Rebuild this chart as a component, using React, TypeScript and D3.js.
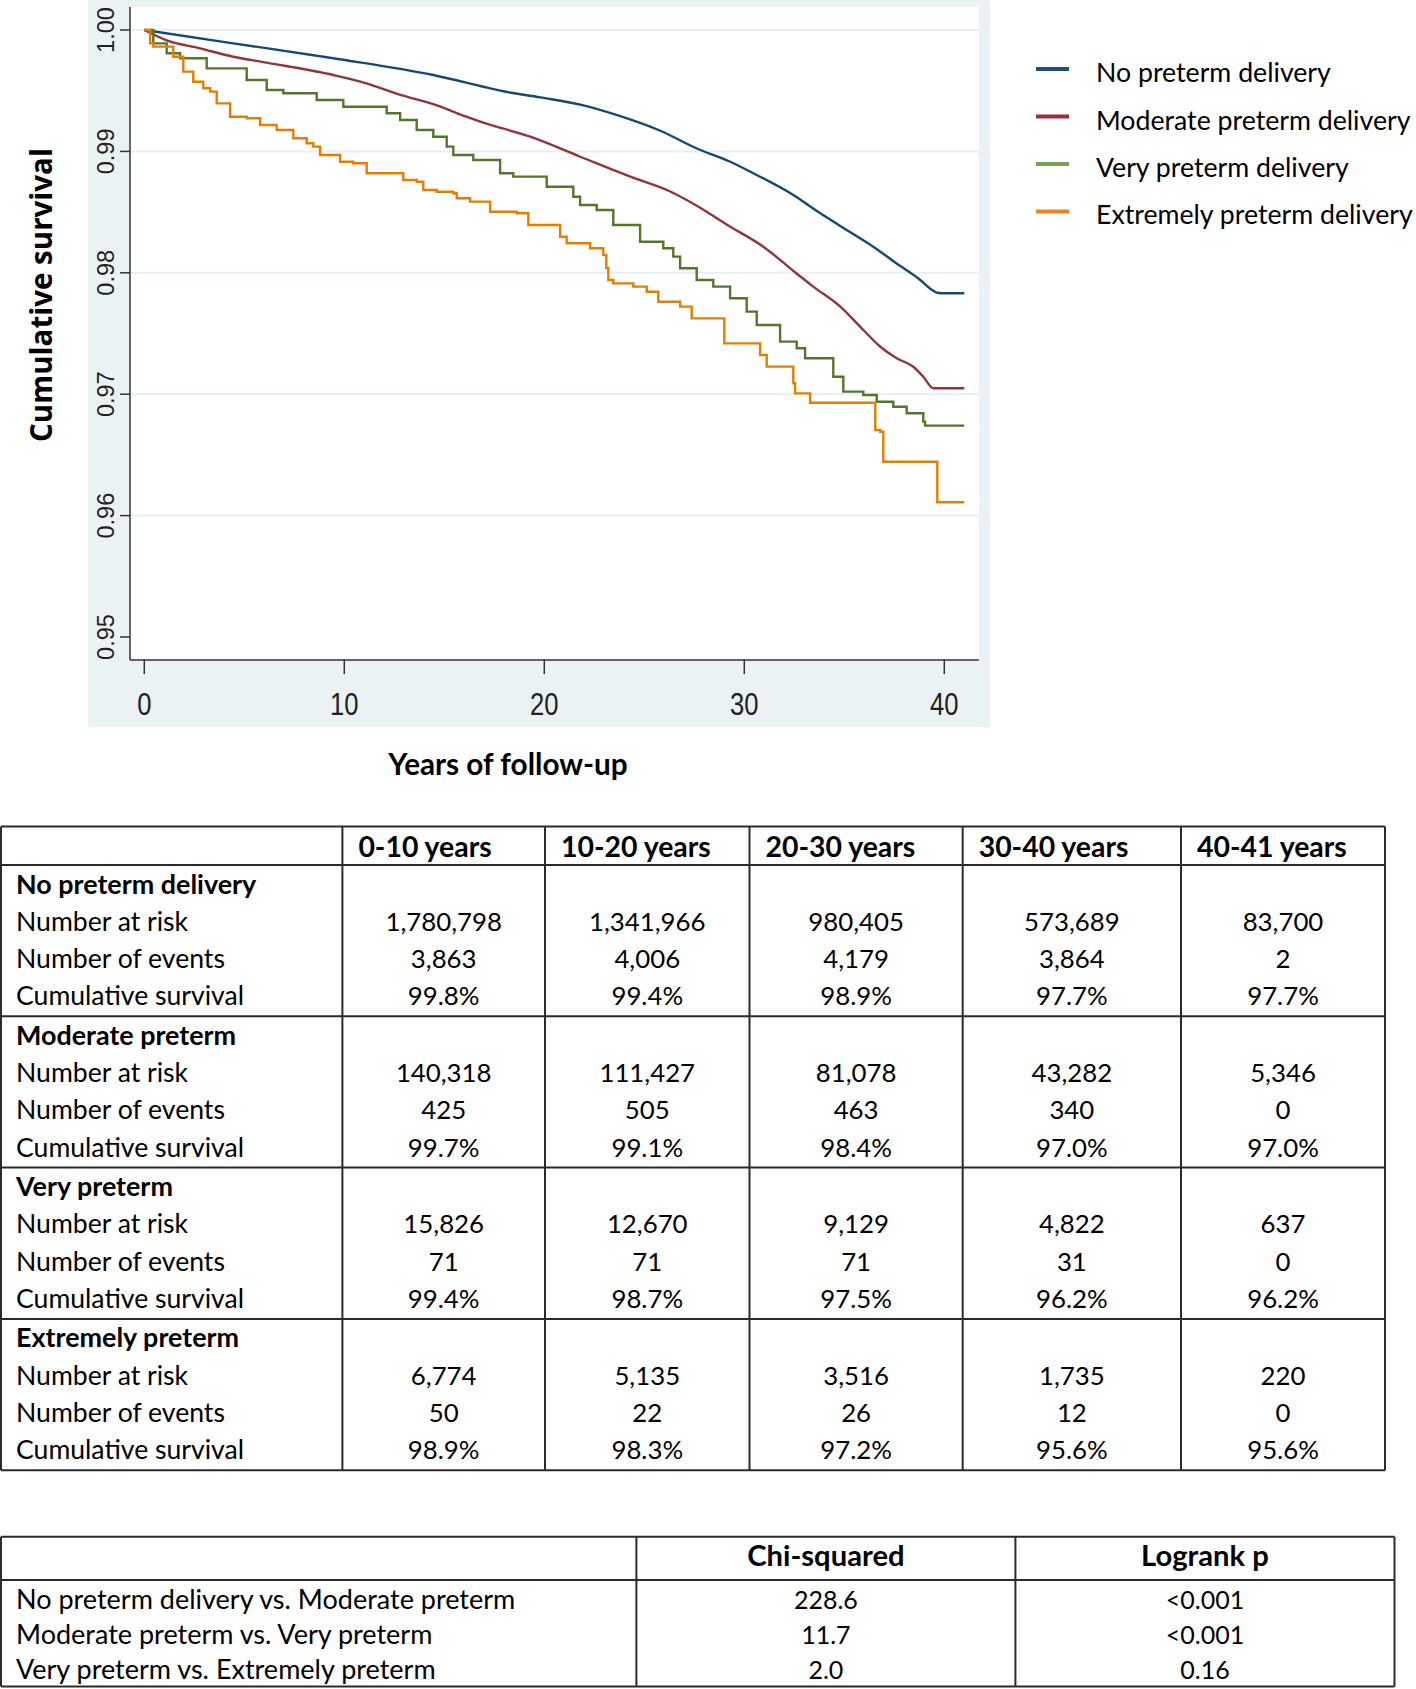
import React from "react";
import * as d3 from "d3";

// ---------- DATA ----------
const seriesNames = [
  "No preterm delivery",
  "Moderate preterm delivery",
  "Very preterm delivery",
  "Extremely preterm delivery",
];

// [years, cumulative survival]
const noPreterm: [number, number][] = [
  [0, 1.0], [4.45, 0.9989], [9.45, 0.99767], [14.45, 0.99629], [16.8, 0.99539],
  [17.8, 0.995], [19.8, 0.99445], [21.8, 0.99385], [23.8, 0.9929], [25.8, 0.9917],
  [27.6, 0.99026], [29.3, 0.98915], [30.45, 0.9882], [32.45, 0.98641], [33.8, 0.9849],
  [35.12, 0.98353], [36.45, 0.98215], [37.6, 0.98078], [38.8, 0.97941], [39.3, 0.97868],
  [39.65, 0.97836], [40.0, 0.97831], [41.0, 0.97831],
];

const moderatePreterm: [number, number][] = [
  [0, 1.0], [1.12, 0.99915], [2.78, 0.99849], [4.45, 0.9978], [6.12, 0.99731],
  [9.45, 0.99629], [11.1, 0.99561], [12.8, 0.99465], [14.45, 0.9939], [16.1, 0.99286],
  [16.8, 0.99245], [19.3, 0.99121], [21.8, 0.98956], [24.3, 0.98792], [26.3, 0.9867],
  [27.6, 0.98555], [29.3, 0.9838], [30.95, 0.98215], [32.6, 0.97996], [33.45, 0.97886],
  [34.8, 0.97721], [35.95, 0.97529], [36.8, 0.97391], [37.62, 0.97296], [38.45, 0.97226],
  [38.95, 0.97144], [39.45, 0.97049], [41.0, 0.97049],
];

const veryPreterm: [number, number][] = [
  [0, 1.0], [0.45, 0.9989], [1.12, 0.99808], [1.79, 0.99767], [3.12, 0.99684],
  [5.12, 0.99588], [6.12, 0.99506], [6.95, 0.99479], [8.62, 0.99423], [9.95, 0.99368],
  [12.12, 0.99314], [12.79, 0.99259], [13.62, 0.99176], [14.45, 0.99121], [15.12, 0.99039],
  [15.45, 0.9897], [16.45, 0.98929], [17.79, 0.9882], [18.45, 0.98792], [20.12, 0.98709],
  [21.45, 0.98627], [21.79, 0.98559], [22.62, 0.98517], [23.45, 0.98394], [24.79, 0.98256],
  [25.95, 0.98202], [26.45, 0.98133], [26.79, 0.98037], [27.62, 0.97941], [28.45, 0.97886],
  [29.29, 0.9779], [30.12, 0.9768], [30.62, 0.9757], [31.79, 0.97433], [32.62, 0.97378],
  [33.04, 0.97296], [34.45, 0.97144], [34.95, 0.97021], [35.95, 0.96993], [36.62, 0.96938],
  [37.45, 0.96897], [38.12, 0.96843], [38.95, 0.96774], [39.04, 0.96741], [41.0, 0.96741],
];

const extremelyPreterm: [number, number][] = [
  [0, 1.0], [0.29, 0.9989], [0.45, 0.99863], [1.45, 0.9978], [1.95, 0.99657],
  [2.45, 0.99574], [2.95, 0.9952], [3.29, 0.99492], [3.62, 0.99396], [4.29, 0.99286],
  [5.12, 0.99273], [5.79, 0.99217], [6.62, 0.99176], [7.45, 0.99108], [8.12, 0.99067],
  [8.45, 0.99039], [8.79, 0.9897], [9.79, 0.98915], [10.45, 0.98902], [11.12, 0.9882],
  [12.95, 0.98764], [13.62, 0.9875], [13.95, 0.98682], [14.62, 0.98668], [15.45, 0.98655],
  [15.62, 0.98614], [16.29, 0.98586], [17.29, 0.98503], [18.62, 0.9849], [19.2, 0.98394],
  [20.79, 0.98297], [21.12, 0.98243], [22.29, 0.98202], [22.95, 0.98147], [23.1, 0.9804],
  [23.2, 0.97941], [23.45, 0.97913], [24.45, 0.97886], [25.12, 0.97844], [25.7, 0.97762],
  [26.79, 0.97721], [27.37, 0.97625], [29.0, 0.97419], [30.79, 0.97323], [31.12, 0.97227],
  [32.45, 0.9709], [32.54, 0.97007], [33.29, 0.9693], [36.55, 0.96705], [36.8, 0.96691],
  [36.95, 0.96444], [39.65, 0.9611], [41.0, 0.9611],
];

const xTicks = [0, 10, 20, 30, 40];
const yTicks = [0.95, 0.96, 0.97, 0.98, 0.99, 1.0];
const yGrid = [0.96, 0.97, 0.98, 0.99, 1.0];

const curveColors = ["#1a476f", "#90353b", "#55752f", "#e37e00"];
const legendColors = ["#1f4e79", "#9c2e3a", "#77a24f", "#f0841a"];

const periodLabels = ["0-10 years", "10-20 years", "20-30 years", "30-40 years", "40-41 years"];
const groupNames = ["No preterm delivery", "Moderate preterm", "Very preterm", "Extremely preterm"];
const rowLabels = ["Number at risk", "Number of events", "Cumulative survival"];

const atRisk = [
  ["1,780,798", "1,341,966", "980,405", "573,689", "83,700"],
  ["140,318", "111,427", "81,078", "43,282", "5,346"],
  ["15,826", "12,670", "9,129", "4,822", "637"],
  ["6,774", "5,135", "3,516", "1,735", "220"],
];
const events = [
  ["3,863", "4,006", "4,179", "3,864", "2"],
  ["425", "505", "463", "340", "0"],
  ["71", "71", "71", "31", "0"],
  ["50", "22", "26", "12", "0"],
];
const cumSurvival = [
  ["99.8%", "99.4%", "98.9%", "97.7%", "97.7%"],
  ["99.7%", "99.1%", "98.4%", "97.0%", "97.0%"],
  ["99.4%", "98.7%", "97.5%", "96.2%", "96.2%"],
  ["98.9%", "98.3%", "97.2%", "95.6%", "95.6%"],
];

const comparisonHeaders = ["Chi-squared", "Logrank p"];
const comparisons = [
  "No preterm delivery vs. Moderate preterm",
  "Moderate preterm vs. Very preterm",
  "Very preterm vs. Extremely preterm",
];
const chiSquared = ["228.6", "11.7", "2.0"];
const logrankP = ["<0.001", "<0.001", "0.16"];

// ---------- COMPONENT ----------
const W = 1416;
const H = 1689;
const TABLE_FONT = "Lato, Carlito, 'Noto Sans', sans-serif";

export default function App() {
  const x = d3.scaleLinear().domain([0, 40]).range([144.3, 944.3]);
  const y = d3.scaleLinear().domain([0.95, 1.0]).range([637, 30]);

  const smooth = d3
    .line<[number, number]>()
    .x((d) => x(d[0]))
    .y((d) => y(d[1]))
    .curve(d3.curveMonotoneX);
  const step = d3
    .line<[number, number]>()
    .x((d) => x(d[0]))
    .y((d) => y(d[1]))
    .curve(d3.curveStepAfter);

  const paths = [
    smooth(noPreterm),
    smooth(moderatePreterm),
    step(veryPreterm),
    step(extremelyPreterm),
  ];

  // plot geometry
  const panel = { x0: 88, y0: 0, x1: 990, y1: 727 };
  const plot = { x0: 130, y0: 7, x1: 979, y1: 660 };

  // table 1 geometry
  const t1Cols = [1, 342.4, 545, 749.5, 962.7, 1181, 1385];
  const t1Top = 826.5;
  const t1HeadBottom = 865;
  const groupH = 151.3;
  const t1Bottom = t1HeadBottom + groupH * 4;
  const rowOffsets = [28.5, 65.8, 103.1, 140.4];
  const colCenter = (i: number) => (t1Cols[i + 1] + t1Cols[i + 2]) / 2;

  // table 2 geometry
  const t2Cols = [1, 636.4, 1015.4, 1394.5];
  const t2Top = 1536.7;
  const t2HeadBottom = 1580;
  const t2Bottom = 1686.5;
  const t2RowBase = [1609, 1644, 1679];

  const lineColor = "#2b2b2b";

  return (
    <svg
      width={W}
      height={H}
      viewBox={`0 0 ${W} ${H}`}
      style={{ position: "absolute", left: 0, top: 0, background: "#ffffff" }}
    >
      <rect x={0} y={0} width={W} height={H} fill="#ffffff" />
      {/* graph region */}
      <rect x={panel.x0} y={panel.y0} width={panel.x1 - panel.x0} height={panel.y1 - panel.y0} fill="#eaf2f3" />
      <rect x={plot.x0} y={plot.y0} width={plot.x1 - plot.x0} height={plot.y1 - plot.y0} fill="#ffffff" />

      {/* gridlines */}
      {yGrid.map((v) => (
        <line key={v} x1={plot.x0} x2={plot.x1} y1={y(v)} y2={y(v)} stroke="#e6eff2" strokeWidth={2} />
      ))}

      {/* curves */}
      {paths.map((p, i) => (
        <path key={i} d={p || ""} fill="none" stroke={curveColors[i]} strokeWidth={2.4} strokeLinejoin="miter" />
      ))}

      {/* axes */}
      <line x1={plot.x0} x2={plot.x0} y1={plot.y0} y2={plot.y1} stroke="#333" strokeWidth={1.5} />
      <line x1={plot.x0} x2={plot.x1} y1={plot.y1} y2={plot.y1} stroke="#333" strokeWidth={1.5} />
      {yTicks.map((v) => (
        <g key={v}>
          <line x1={plot.x0 - 10} x2={plot.x0} y1={y(v)} y2={y(v)} stroke="#333" strokeWidth={1.5} />
          <text
            transform={`translate(114,${y(v)}) rotate(-90)`}
            textAnchor="middle"
            fontFamily="'Liberation Sans', Arial, sans-serif"
            fontSize={23.5}
            fill="#222"
          >
            {v.toFixed(2)}
          </text>
        </g>
      ))}
      {xTicks.map((t) => (
        <g key={t}>
          <line x1={x(t)} x2={x(t)} y1={plot.y1} y2={plot.y1 + 14} stroke="#333" strokeWidth={1.5} />
          <text
            transform={`translate(${x(t)},715) scale(0.8,1)`}
            textAnchor="middle"
            fontFamily="'Liberation Sans', Arial, sans-serif"
            fontSize={32}
            fill="#222"
          >
            {t}
          </text>
        </g>
      ))}

      {/* axis titles */}
      <text
        transform="translate(52,295) rotate(-90)"
        textAnchor="middle"
        fontFamily="'Open Sans', sans-serif"
        fontWeight={700}
        fontSize={29.5}
        fill="#000"
      >
        Cumulative survival
      </text>
      <text x={508} y={775} textAnchor="middle" fontFamily={TABLE_FONT} fontWeight={700} fontSize={29.7} fill="#000">
        Years of follow-up
      </text>

      {/* legend */}
      {seriesNames.map((n, i) => (
        <g key={n}>
          <line x1={1036} x2={1069} y1={69 + i * 47.5} y2={69 + i * 47.5} stroke={legendColors[i]} strokeWidth={4} />
          <text x={1096} y={82.3 + i * 47.2} fontFamily={TABLE_FONT} fontSize={26.7} fill="#000">
            {n}
          </text>
        </g>
      ))}

      {/* table 1 */}
      <g fontFamily={TABLE_FONT} fontSize={26.6} fill="#000">
        {periodLabels.map((p, i) => (
          <text key={p} x={t1Cols[i + 1] + 16} y={857} fontWeight={700} fontSize={28.4}>
            {p}
          </text>
        ))}
        {groupNames.map((g, gi) => {
          const top = t1HeadBottom + gi * groupH;
          const rows = [atRisk[gi], events[gi], cumSurvival[gi]];
          return (
            <g key={g}>
              <text x={16} y={top + rowOffsets[0]} fontWeight={700} fontSize={26.9}>
                {g}
              </text>
              {rowLabels.map((r, ri) => (
                <g key={r}>
                  <text x={16} y={top + rowOffsets[ri + 1]}>
                    {r}
                  </text>
                  {rows[ri].map((val, ci) => (
                    <text
                      key={ci}
                      x={colCenter(ci)}
                      y={top + rowOffsets[ri + 1]}
                      textAnchor="middle"
                      fontSize={25.8}
                    >
                      {val}
                    </text>
                  ))}
                </g>
              ))}
            </g>
          );
        })}
      </g>
      <g stroke={lineColor} strokeWidth={2}>
        <line x1={t1Cols[0]} x2={t1Cols[6]} y1={t1Top} y2={t1Top} />
        {[0, 1, 2, 3, 4].map((k) => (
          <line key={k} x1={t1Cols[0]} x2={t1Cols[6]} y1={t1HeadBottom + k * groupH} y2={t1HeadBottom + k * groupH} />
        ))}
        {t1Cols.map((cx, i) => (
          <line key={i} x1={cx} x2={cx} y1={t1Top} y2={t1Bottom} />
        ))}
      </g>

      {/* table 2 */}
      <g fontFamily={TABLE_FONT} fontSize={27} fill="#000">
        {comparisonHeaders.map((h, i) => (
          <text
            key={h}
            x={(t2Cols[i + 1] + t2Cols[i + 2]) / 2}
            y={1566}
            textAnchor="middle"
            fontWeight={700}
            fontSize={29.2}
          >
            {h}
          </text>
        ))}
        {comparisons.map((c, ri) => (
          <g key={c}>
            <text x={16} y={t2RowBase[ri]}>
              {c}
            </text>
            <text x={(t2Cols[1] + t2Cols[2]) / 2} y={t2RowBase[ri]} textAnchor="middle" fontSize={25}>
              {chiSquared[ri]}
            </text>
            <text x={(t2Cols[2] + t2Cols[3]) / 2} y={t2RowBase[ri]} textAnchor="middle" fontSize={25}>
              {logrankP[ri]}
            </text>
          </g>
        ))}
      </g>
      <g stroke={lineColor} strokeWidth={2}>
        <line x1={t2Cols[0]} x2={t2Cols[3]} y1={t2Top} y2={t2Top} />
        <line x1={t2Cols[0]} x2={t2Cols[3]} y1={t2HeadBottom} y2={t2HeadBottom} />
        <line x1={t2Cols[0]} x2={t2Cols[3]} y1={t2Bottom} y2={t2Bottom} />
        {t2Cols.map((cx, i) => (
          <line key={i} x1={cx} x2={cx} y1={t2Top} y2={t2Bottom} />
        ))}
      </g>
    </svg>
  );
}
